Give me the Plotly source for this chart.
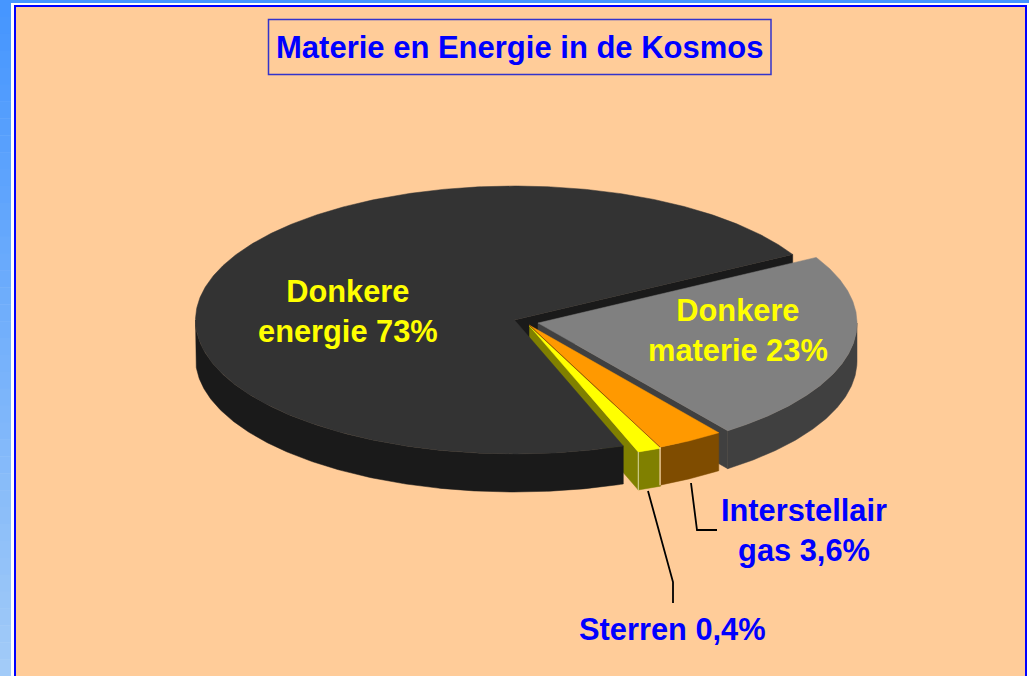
import numpy as np
import plotly.graph_objects as go

# Data: share of the full circle that each slice occupies in the picture (%)
slice_names = ["Donkere materie", "Interstellair gas", "Sterren", "Donkere energie"]
slice_shares = [23.0, 3.4, 1.2, 72.4]
# Printed labels
label_energie = "Donkere<br>energie 73%"
label_materie = "Donkere<br>materie 23%"
label_gas = "Interstellair<br>gas 3,6%"
label_sterren = "Sterren 0,4%"
chart_title = "Materie en Energie in de Kosmos"

# Styling / projection
W, H = 1029, 676
RX, RY, DEPTH = 319, 134, 38
START_ANGLE = -29.3
PIVOTS = [(538, 323), (529, 325), (529.5, 326), (514.5, 320)]
TOP = ["#808080", "#ff9900", "#ffff00", "#333333"]
WALL = ["#404040", "#7f4c00", "#808000", "#1a1a1a"]
BG, BLUE = "#ffcc99", "#0000ff"

edges = START_ANGLE + np.cumsum([0] + slice_shares) * 3.6


def arc(i, a=None, b=None, dz=0):
    a = edges[i] if a is None else a
    b = edges[i + 1] if b is None else b
    t = np.radians(np.linspace(a, b, max(2, int(abs(b - a) * 2))))
    cx, cy = PIVOTS[i]
    return cx + RX * np.cos(t), cy + RY * np.sin(t) + dz


def poly(x, y, color):
    return go.Scatter(x=list(x) + [x[0]], y=list(y) + [y[0]], mode="lines", fill="toself",
                      fillcolor=color, line=dict(color=color, width=0.5), hoverinfo="skip", showlegend=False)


def line(x, y, color="#000000", width=1.8):
    return go.Scatter(x=x, y=y, mode="lines", line=dict(color=color, width=width), hoverinfo="skip", showlegend=False)


def top(i):
    x, y = arc(i)
    cx, cy = PIVOTS[i]
    return poly(np.r_[cx, x], np.r_[cy, y], TOP[i])


def outer_wall(i, a=None, b=None):
    x, y = arc(i, a, b)
    xb, yb = arc(i, a, b, DEPTH)
    return poly(np.r_[x, xb[::-1]], np.r_[y, yb[::-1]], WALL[i])


def cut_wall(i, angle):
    cx, cy = PIVOTS[i]
    x, y = arc(i, angle, angle + 0.001)
    return poly([cx, x[0], x[0], cx], [cy, y[0], y[0] + DEPTH, cy + DEPTH], WALL[i])


fig = go.Figure()
M, G, S, E = 0, 1, 2, 3

# Back to front
fig.add_trace(cut_wall(E, edges[4]))
fig.add_trace(cut_wall(M, edges[M + 1]))
fig.add_trace(cut_wall(S, edges[S + 1]))
fig.add_trace(outer_wall(E, edges[E], 180))
fig.add_trace(top(E))
fig.add_trace(outer_wall(M, 0, edges[M + 1]))
fig.add_trace(top(M))
fig.add_trace(outer_wall(S))
fig.add_trace(outer_wall(G))
fig.add_trace(top(S))
fig.add_trace(top(G))

# Thin separators on the small slices
gx, gy = arc(G, edges[G + 1], edges[G + 1] + 0.001)
fig.add_trace(line([gx[0], gx[0]], [gy[0], gy[0] + DEPTH], "#ffe0b0", 1.2))
fig.add_trace(line([PIVOTS[G][0], gx[0]], [PIVOTS[G][1], gy[0]], "#7f4c00", 0.8))
sx, sy = arc(S, edges[S + 1], edges[S + 1] + 0.001)
fig.add_trace(line([sx[0], sx[0]], [sy[0], sy[0] + DEPTH], "#d8d8a0", 1))

# Leader lines
fig.add_trace(line([648, 673, 673], [491, 582, 603]))
fig.add_trace(line([691, 697, 717], [483, 530, 530]))

shapes = [
    dict(type="rect", x0=0, x1=W, y0=0, y1=H, fillcolor="#ffffff", line_width=0, layer="below"),
    dict(type="rect", x0=0, x1=W, y0=0, y1=3, fillcolor="#4696ff", line_width=0, layer="below"),
    dict(type="rect", x0=15, x1=1026, y0=6, y1=H + 5, fillcolor=BG,
         line=dict(color=BLUE, width=2), layer="below"),
    dict(type="rect", x0=268.5, x1=771, y0=19.5, y1=74.5, fillcolor=BG,
         line=dict(color="#3333cc", width=1.5), layer="below"),
]
# Gradient of the left band
c0, c1 = np.array([0x46, 0x96, 0xff]), np.array([0xa2, 0xcb, 0xf8])
n = 40
for k in range(n):
    c = c0 + (c1 - c0) * k / (n - 1)
    shapes.append(dict(type="rect", x0=0, x1=11, y0=k * H / n, y1=(k + 1) * H / n + 0.5,
                       fillcolor="rgb(%d,%d,%d)" % tuple(c), line_width=0, layer="below"))


def note(x, y, text, color, size=30.8):
    return dict(x=x, y=y, text=text, showarrow=False, xanchor="center", yanchor="middle", align="center",
                font=dict(family="Liberation Sans", size=size, color=color))


annotations = [
    note(519.5, 47.5, "<b>%s</b>" % chart_title, BLUE, 31),
    note(348, 311, "<b>%s</b>" % label_energie, "#ffff00"),
    note(738, 330, "<b>%s</b>" % label_materie, "#ffff00"),
    note(804, 530, "<b>%s</b>" % label_gas, BLUE),
    note(672, 629, "<b>%s</b>" % label_sterren, BLUE),
]

fig.update_layout(
    width=W, height=H, margin=dict(l=0, r=0, t=0, b=0), autosize=False,
    paper_bgcolor="#ffffff", plot_bgcolor="#ffffff", showlegend=False,
    xaxis=dict(range=[0, W], visible=False, fixedrange=True),
    yaxis=dict(range=[H, 0], visible=False, fixedrange=True),
    shapes=shapes, annotations=annotations,
)
fig.write_html("out.html", config=dict(displayModeBar=False),
               post_script="document.body.style.margin='0';")
